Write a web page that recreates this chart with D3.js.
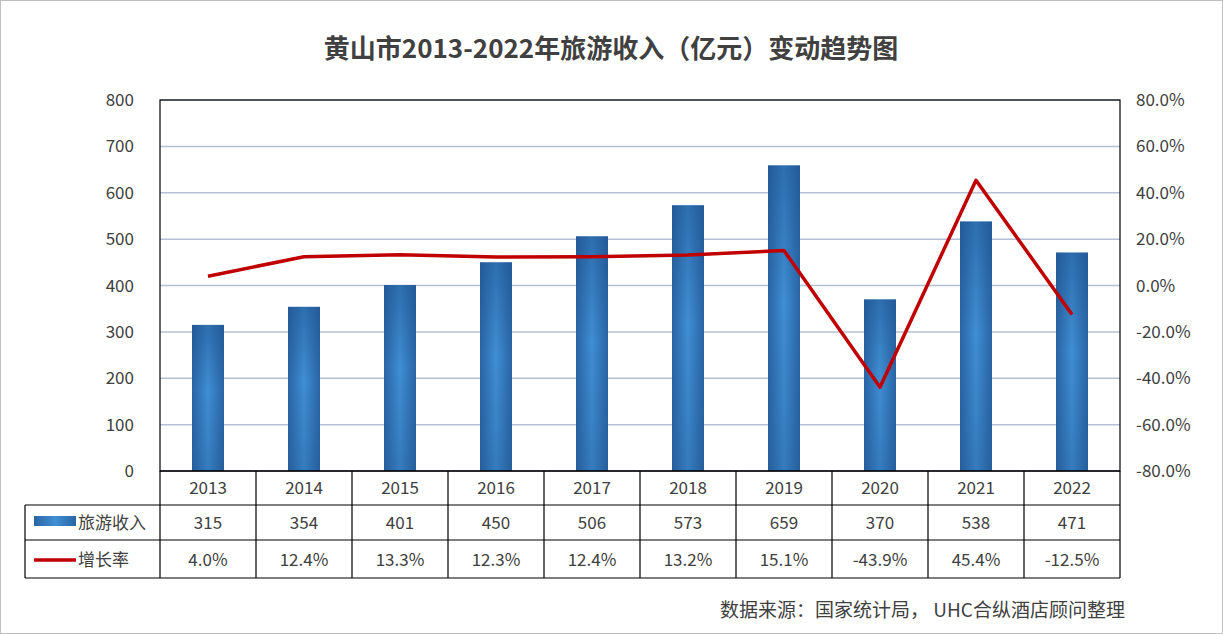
<!DOCTYPE html>
<html><head><meta charset="utf-8">
<script src="https://cdn.jsdelivr.net/npm/d3@7"></script>
<style>body{margin:0;background:#fff;font-family:"Noto Sans CJK SC","Noto Sans",sans-serif;}</style>
</head><body><svg id="chart" width="1223" height="634"></svg>
<script>
const years = ["2013","2014","2015","2016","2017","2018","2019","2020","2021","2022"];
const revenue = [315, 354, 401, 450, 506, 573, 659, 370, 538, 471];
const growth = [4.0, 12.4, 13.3, 12.3, 12.4, 13.2, 15.1, -43.9, 45.4, -12.5];
const leftTicks = [0, 100, 200, 300, 400, 500, 600, 700, 800];
const rightTicks = [-80, -60, -40, -20, 0, 20, 40, 60, 80];

const svg = d3.select("#chart");
const L = 160, R = 1120, T = 100, B = 471;
const font = "'Noto Sans CJK SC', sans-serif";

svg.append("rect").attr("x", 0.5).attr("y", 0.5).attr("width", 1222).attr("height", 633)
  .attr("fill", "#fff").attr("stroke", "#bfbfbf");

const defs = svg.append("defs");
const grad = defs.append("linearGradient").attr("id", "barGrad").attr("x1", 0).attr("x2", 1).attr("y1", 0).attr("y2", 0);
grad.append("stop").attr("offset", "0%").attr("stop-color", "#2a64a4");
grad.append("stop").attr("offset", "50%").attr("stop-color", "#3f8fd4");
grad.append("stop").attr("offset", "100%").attr("stop-color", "#2a64a4");
const vgrad = defs.append("linearGradient").attr("id", "barShade").attr("x1", 0).attr("x2", 0).attr("y1", 0).attr("y2", 1);
vgrad.append("stop").attr("offset", "0%").attr("stop-color", "#1d4f8a").attr("stop-opacity", 0.5);
vgrad.append("stop").attr("offset", "45%").attr("stop-color", "#1d4f8a").attr("stop-opacity", 0);
vgrad.append("stop").attr("offset", "100%").attr("stop-color", "#1d4f8a").attr("stop-opacity", 0.3);

svg.append("text").attr("x", 611).attr("y", 58).attr("text-anchor", "middle")
  .attr("font-family", font).attr("font-size", 26).attr("font-weight", "bold").attr("fill", "#404040")
  .text("黄山市2013-2022年旅游收入（亿元）变动趋势图");

const x = d3.scaleBand().domain(years).range([L, R]);
const y = d3.scaleLinear().domain([0, 800]).range([B, T]);
const y2 = d3.scaleLinear().domain([-80, 80]).range([B, T]);

svg.append("g").selectAll("line").data(leftTicks).join("line")
  .attr("x1", L).attr("x2", R).attr("y1", d => y(d)).attr("y2", d => y(d))
  .attr("stroke", "#b4c0d4").attr("stroke-width", 1.5);

svg.append("g").selectAll("text").data(leftTicks).join("text")
  .attr("x", 134).attr("y", d => y(d) + 6).attr("text-anchor", "end")
  .attr("font-family", font).attr("font-size", 17).attr("fill", "#404040").text(d => d);
svg.append("g").selectAll("text").data(rightTicks).join("text")
  .attr("x", 1136).attr("y", d => y2(d) + 6)
  .attr("font-family", font).attr("font-size", 17).attr("fill", "#404040").text(d => d.toFixed(1) + "%");

const bw = 32;
["url(#barGrad)", "url(#barShade)"].forEach(f => {
  svg.append("g").selectAll("rect").data(revenue).join("rect")
    .attr("x", (d, i) => x(years[i]) + x.bandwidth() / 2 - bw / 2)
    .attr("y", d => y(d)).attr("width", bw).attr("height", d => B - y(d))
    .attr("fill", f);
});

const line = d3.line().x((d, i) => x(years[i]) + x.bandwidth() / 2).y(d => y2(d));
svg.append("path").datum(growth).attr("d", line)
  .attr("fill", "none").attr("stroke", "#c00000").attr("stroke-width", 3.5).attr("stroke-linejoin", "round");

svg.append("rect").attr("x", L).attr("y", T).attr("width", R - L).attr("height", B - T)
  .attr("fill", "none").attr("stroke", "#000").attr("stroke-width", 1.2);

const rows = [B, 505, 540, 578];
const tg = svg.append("g").attr("stroke", "#000").attr("stroke-width", 1.2);
rows.forEach((ry, i) => {
  tg.append("line").attr("x1", i === 0 ? L : 25).attr("x2", R).attr("y1", ry).attr("y2", ry);
});
tg.append("line").attr("x1", 25).attr("x2", 25).attr("y1", 505).attr("y2", 578);
x.domain().concat(["end"]).forEach((yr, i) => {
  const xx = L + i * x.bandwidth();
  tg.append("line").attr("x1", xx).attr("x2", xx).attr("y1", B).attr("y2", 578);
});
const cell = (arr, ry, fmt) => svg.append("g").selectAll("text").data(arr).join("text")
  .attr("x", (d, i) => x(years[i]) + x.bandwidth() / 2).attr("y", ry).attr("text-anchor", "middle")
  .attr("font-family", font).attr("font-size", 17).attr("fill", "#404040").text(fmt);
cell(years, 494, d => d);
cell(revenue, 529, d => d);
cell(growth, 566, d => d.toFixed(1) + "%");

svg.append("rect").attr("x", 34).attr("y", 516).attr("width", 42).attr("height", 10).attr("fill", "url(#barGrad)");
svg.append("text").attr("x", 78).attr("y", 529).attr("font-family", font).attr("font-size", 17).attr("fill", "#404040").text("旅游收入");
svg.append("line").attr("x1", 34).attr("x2", 76).attr("y1", 560).attr("y2", 560).attr("stroke", "#c00000").attr("stroke-width", 3.5);
svg.append("text").attr("x", 78).attr("y", 566).attr("font-family", font).attr("font-size", 17).attr("fill", "#404040").text("增长率");

svg.append("text").attr("x", 1125).attr("y", 617).attr("text-anchor", "end")
  .attr("font-family", font).attr("font-size", 19).attr("fill", "#404040").text("数据来源：国家统计局， UHC合纵酒店顾问整理");
</script></body></html>
